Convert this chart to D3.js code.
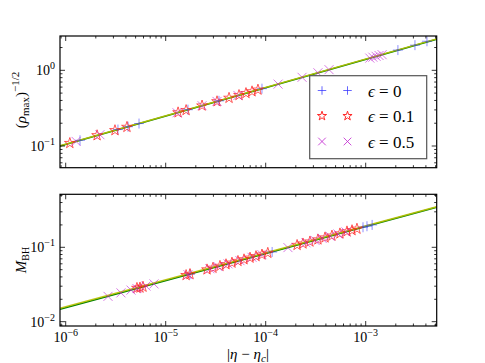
<!DOCTYPE html>
<html>
<head>
<meta charset="utf-8">
<script src="https://cdn.jsdelivr.net/npm/d3@7"></script>
<style>
  html, body { margin: 0; padding: 0; background: #fff; }
  svg text { font-family: "Liberation Serif", "DejaVu Serif", serif; fill: #000; }
</style>
</head>
<body>
<div id="chart"></div>
<script>
// two stacked log-log panels, shared x = |eta - eta_c|
// values

// --- top panel: (rho_max)^(-1/2)
const topEps0X = [1.39e-6, 3.33e-6, 4.20e-6, 5.41e-6, 1.67e-5, 3.41e-5, 9.18e-5, 2.10e-3, 3.11e-3, 4.10e-3];
const topEps0Y = [0.119, 0.165, 0.180, 0.198, 0.302, 0.395, 0.572, 1.85, 2.15, 2.42];
const topEps01X = [1.10e-6, 2.06e-6, 3.11e-6, 4.10e-6, 1.33e-5, 1.60e-5, 2.31e-5, 3.26e-5, 4.30e-5, 5.41e-5, 6.35e-5, 7.30e-5, 8.37e-5];
const topEps01Y = [0.109, 0.138, 0.161, 0.178, 0.277, 0.297, 0.341, 0.388, 0.431, 0.469, 0.498, 0.525, 0.553];
const topEps05X = [1.27e-6, 2.20e-6, 1.30e-5, 2.31e-5, 3.26e-5, 5.28e-5, 1.33e-4, 2.31e-4, 3.33e-4, 4.30e-4, 1.10e-3, 1.18e-3, 1.27e-3, 1.36e-3, 1.46e-3];
const topEps05Y = [0.115, 0.141, 0.275, 0.341, 0.388, 0.465, 0.657, 0.808, 0.928, 1.02, 1.45, 1.49, 1.53, 1.57, 1.61];

// --- bottom panel: M_BH
const botEps0X = [1.75e-5, 1.16e-4, 9.40e-4, 1.03e-3, 1.16e-3];
const botEps0Y = [0.0435, 0.0865, 0.186, 0.192, 0.200];
const botEps01X = [5.16e-6, 5.53e-6, 5.93e-6, 1.60e-5, 1.75e-5, 2.59e-5, 2.97e-5, 3.49e-5, 4.01e-5, 4.60e-5, 5.28e-5, 6.07e-5, 6.97e-5, 8.00e-5, 9.18e-5, 1.05e-4, 2.06e-4, 2.36e-4, 2.77e-4, 3.33e-4, 3.92e-4, 4.60e-4, 5.53e-4, 6.50e-4, 7.30e-4, 8.18e-4];
const botEps01Y = [0.0283, 0.0286, 0.0294, 0.0421, 0.0435, 0.0502, 0.0528, 0.0560, 0.0589, 0.0619, 0.0652, 0.0686, 0.0722, 0.0757, 0.0796, 0.0838, 0.107, 0.112, 0.119, 0.127, 0.135, 0.143, 0.153, 0.163, 0.169, 0.177];
const botEps05X = [2.65e-6, 3.57e-6, 4.50e-6, 5.16e-6, 6.35e-6, 7.64e-6, 1.67e-5, 2.77e-5, 3.33e-5, 4.20e-5, 5.53e-5, 7.30e-5, 9.18e-5, 1.67e-4, 2.53e-4, 3.11e-4, 3.66e-4, 4.40e-4, 5.28e-4, 6.35e-4];
const botEps05Y = [0.0219, 0.0244, 0.0266, 0.0279, 0.0301, 0.0322, 0.0429, 0.0515, 0.0551, 0.0599, 0.0662, 0.0733, 0.0796, 0.0991, 0.115, 0.124, 0.132, 0.141, 0.151, 0.161];

// power-law fits (end points across the x range)
const fitX = [8.77e-7, 5.13e-3];
const fitTopGreen = [0.100, 2.57];
const fitTopYellow = [0.101, 2.60];
const fitBotGreen = [0.01466, 0.345];
const fitBotYellow = [0.01510, 0.352];

// axis ranges and tick labels
const xDomain = [8.77e-7, 5.13e-3];
const yTopDomain = [0.0517, 2.84];
const yBotDomain = [0.00875, 0.516];
const xTickVals = [1e-6, 1e-5, 1e-4, 1e-3];
const xTickExp = ['−6', '−5', '−4', '−3'];
const yTopTickVals = [1e-1, 1];
const yTopTickExp = ['−1', '0'];
const yBotTickVals = [1e-2, 1e-1];
const yBotTickExp = ['−2', '−1'];
const legendLabels = ['0', '0.1', '0.5'];

const W = 485, H = 363;
const L = 60, R = 436.7;
const panels = [
  { top: 36, bottom: 167.7, dom: yTopDomain, ticks: yTopTickVals, exps: yTopTickExp,
    series: [[topEps0X, topEps0Y], [topEps01X, topEps01Y], [topEps05X, topEps05Y]],
    green: fitTopGreen, yellow: fitTopYellow, xlabels: false },
  { top: 194.3, bottom: 326, dom: yBotDomain, ticks: yBotTickVals, exps: yBotTickExp,
    series: [[botEps0X, botEps0Y], [botEps01X, botEps01Y], [botEps05X, botEps05Y]],
    green: fitBotGreen, yellow: fitBotYellow, xlabels: true }
];

const STYLE = [
  { kind: 'plus', color: '#3333ff', opacity: 0.55 },
  { kind: 'star', color: '#ff2020', opacity: 0.75 },
  { kind: 'cross', color: '#c020d0', opacity: 0.6 }
];

const svg = d3.select('#chart').append('svg')
  .attr('width', W).attr('height', H)
  .attr('viewBox', `0 0 ${W} ${H}`);

const x = d3.scaleLog().domain(xDomain).range([L, R]);

function drawMarker(g, kind, cx, cy, color, opacity, scale) {
  const k = scale || 1;
  if (kind === 'plus') {
    const s = 5 * k;
    g.append('path')
      .attr('d', `M${cx - s},${cy}H${cx + s}M${cx},${cy - s}V${cy + s}`)
      .attr('stroke', color).attr('stroke-width', 1).attr('fill', 'none')
      .attr('opacity', opacity);
  } else if (kind === 'cross') {
    const s = 4.5 * k;
    g.append('path')
      .attr('d', `M${cx - s},${cy - s}L${cx + s},${cy + s}M${cx - s},${cy + s}L${cx + s},${cy - s}`)
      .attr('stroke', color).attr('stroke-width', 1).attr('fill', 'none')
      .attr('opacity', opacity);
  } else {
    g.append('path')
      .attr('d', d3.symbol().type(d3.symbolStar).size(36 * k * k)())
      .attr('transform', `translate(${cx},${cy})`)
      .attr('stroke', color).attr('stroke-width', 1).attr('fill', 'none')
      .attr('opacity', opacity);
  }
}

function powLabel(g, px, py, exp, anchor) {
  const t = g.append('text')
    .attr('x', px).attr('y', py)
    .attr('text-anchor', anchor)
    .attr('font-size', 14);
  t.append('tspan').text('10');
  t.append('tspan').attr('font-size', 10).attr('dy', -6).text(exp);
}

panels.forEach(p => {
  const y = d3.scaleLog().domain(p.dom).range([p.bottom, p.top]);
  const g = svg.append('g');
  const clipId = 'clip' + Math.round(p.top);
  svg.append('clipPath').attr('id', clipId).append('rect')
    .attr('x', L).attr('y', p.top).attr('width', R - L).attr('height', p.bottom - p.top);

  // fit lines
  const plot = g.append('g').attr('clip-path', `url(#${clipId})`);
  const line = d3.line().x(d => x(d[0])).y(d => y(d[1]));
  plot.append('path').datum(d3.zip(fitX, p.green)).attr('d', line)
    .attr('stroke', '#008000').attr('stroke-width', 1.6).attr('fill', 'none');
  plot.append('path').datum(d3.zip(fitX, p.yellow)).attr('d', line)
    .attr('stroke', '#b8c000').attr('stroke-width', 1.5).attr('fill', 'none').attr('opacity', 0.9);

  // markers
  p.series.forEach((s, i) => {
    const st = STYLE[i];
    s[0].forEach((xv, j) => drawMarker(plot, st.kind, x(xv), y(s[1][j]), st.color, st.opacity));
  });

  // ticks (inside, all four sides)
  const yMinor = y.ticks().filter(v => !p.ticks.some(t => Math.abs(t - v) / v < 1e-6));
  const xMinor = x.ticks().filter(v => !xTickVals.some(t => Math.abs(t - v) / v < 1e-6));
  const tk = g.append('g').attr('stroke', '#000').attr('stroke-width', 0.8);
  const addX = (vals, len) => vals.forEach(v => {
    tk.append('line').attr('x1', x(v)).attr('x2', x(v)).attr('y1', p.bottom).attr('y2', p.bottom - len);
    tk.append('line').attr('x1', x(v)).attr('x2', x(v)).attr('y1', p.top).attr('y2', p.top + len);
  });
  const addY = (vals, len) => vals.forEach(v => {
    tk.append('line').attr('y1', y(v)).attr('y2', y(v)).attr('x1', L).attr('x2', L + len);
    tk.append('line').attr('y1', y(v)).attr('y2', y(v)).attr('x1', R).attr('x2', R - len);
  });
  addX(xTickVals, 5); addX(xMinor, 2.5);
  addY(p.ticks, 5); addY(yMinor, 2.5);

  // frame
  g.append('rect').attr('x', L).attr('y', p.top).attr('width', R - L).attr('height', p.bottom - p.top)
    .attr('fill', 'none').attr('stroke', '#000').attr('stroke-width', 1.2);

  // y tick labels
  p.ticks.forEach((v, i) => powLabel(g, L - 5, y(v) + 5, p.exps[i], 'end'));
  if (p.xlabels) {
    xTickVals.forEach((v, i) => powLabel(g, x(v), p.bottom + 16, xTickExp[i], 'middle'));
  }
});

// y axis titles
const t1 = svg.append('text').attr('transform', 'translate(26,100) rotate(-90)')
  .attr('text-anchor', 'middle').attr('font-size', 15);
t1.append('tspan').text('(');
t1.append('tspan').attr('font-style', 'italic').text('ρ');
t1.append('tspan').attr('font-size', 11).attr('dy', 3).text('max');
t1.append('tspan').attr('dy', -3).text(')');
t1.append('tspan').attr('font-size', 11).attr('dy', -7).text('−1/2');

const t2 = svg.append('text').attr('transform', 'translate(26,260) rotate(-90)')
  .attr('text-anchor', 'middle').attr('font-size', 15);
t2.append('tspan').attr('font-style', 'italic').text('M');
t2.append('tspan').attr('font-size', 10).attr('dy', 3).text('BH');

// x axis title
const t3 = svg.append('text').attr('x', 248).attr('y', 359)
  .attr('text-anchor', 'middle').attr('font-size', 15);
t3.append('tspan').text('|');
t3.append('tspan').attr('font-style', 'italic').text('η');
t3.append('tspan').text(' − ');
t3.append('tspan').attr('font-style', 'italic').text('η');
t3.append('tspan').attr('font-style', 'italic').attr('font-size', 11).attr('dy', 3).text('c');
t3.append('tspan').attr('dy', -3).text('|');

// legend
const lg = svg.append('g');
lg.append('rect').attr('x', 309.7).attr('y', 75.7).attr('width', 117).attr('height', 83)
  .attr('fill', '#fff').attr('stroke', '#555').attr('stroke-width', 1.2);
legendLabels.forEach((lab, i) => {
  const cy = 90.5 + i * 25.5;
  const st = STYLE[i];
  drawMarker(lg, st.kind, 322, cy, st.color, Math.min(1, st.opacity + 0.2), 0.85);
  drawMarker(lg, st.kind, 347.5, cy, st.color, Math.min(1, st.opacity + 0.2), 0.85);
  const t = lg.append('text').attr('x', 368).attr('y', cy + 6).attr('font-size', 17);
  t.append('tspan').attr('font-style', 'italic').text('ϵ');
  t.append('tspan').text(' = ' + lab);
});
</script>
</body>
</html>
